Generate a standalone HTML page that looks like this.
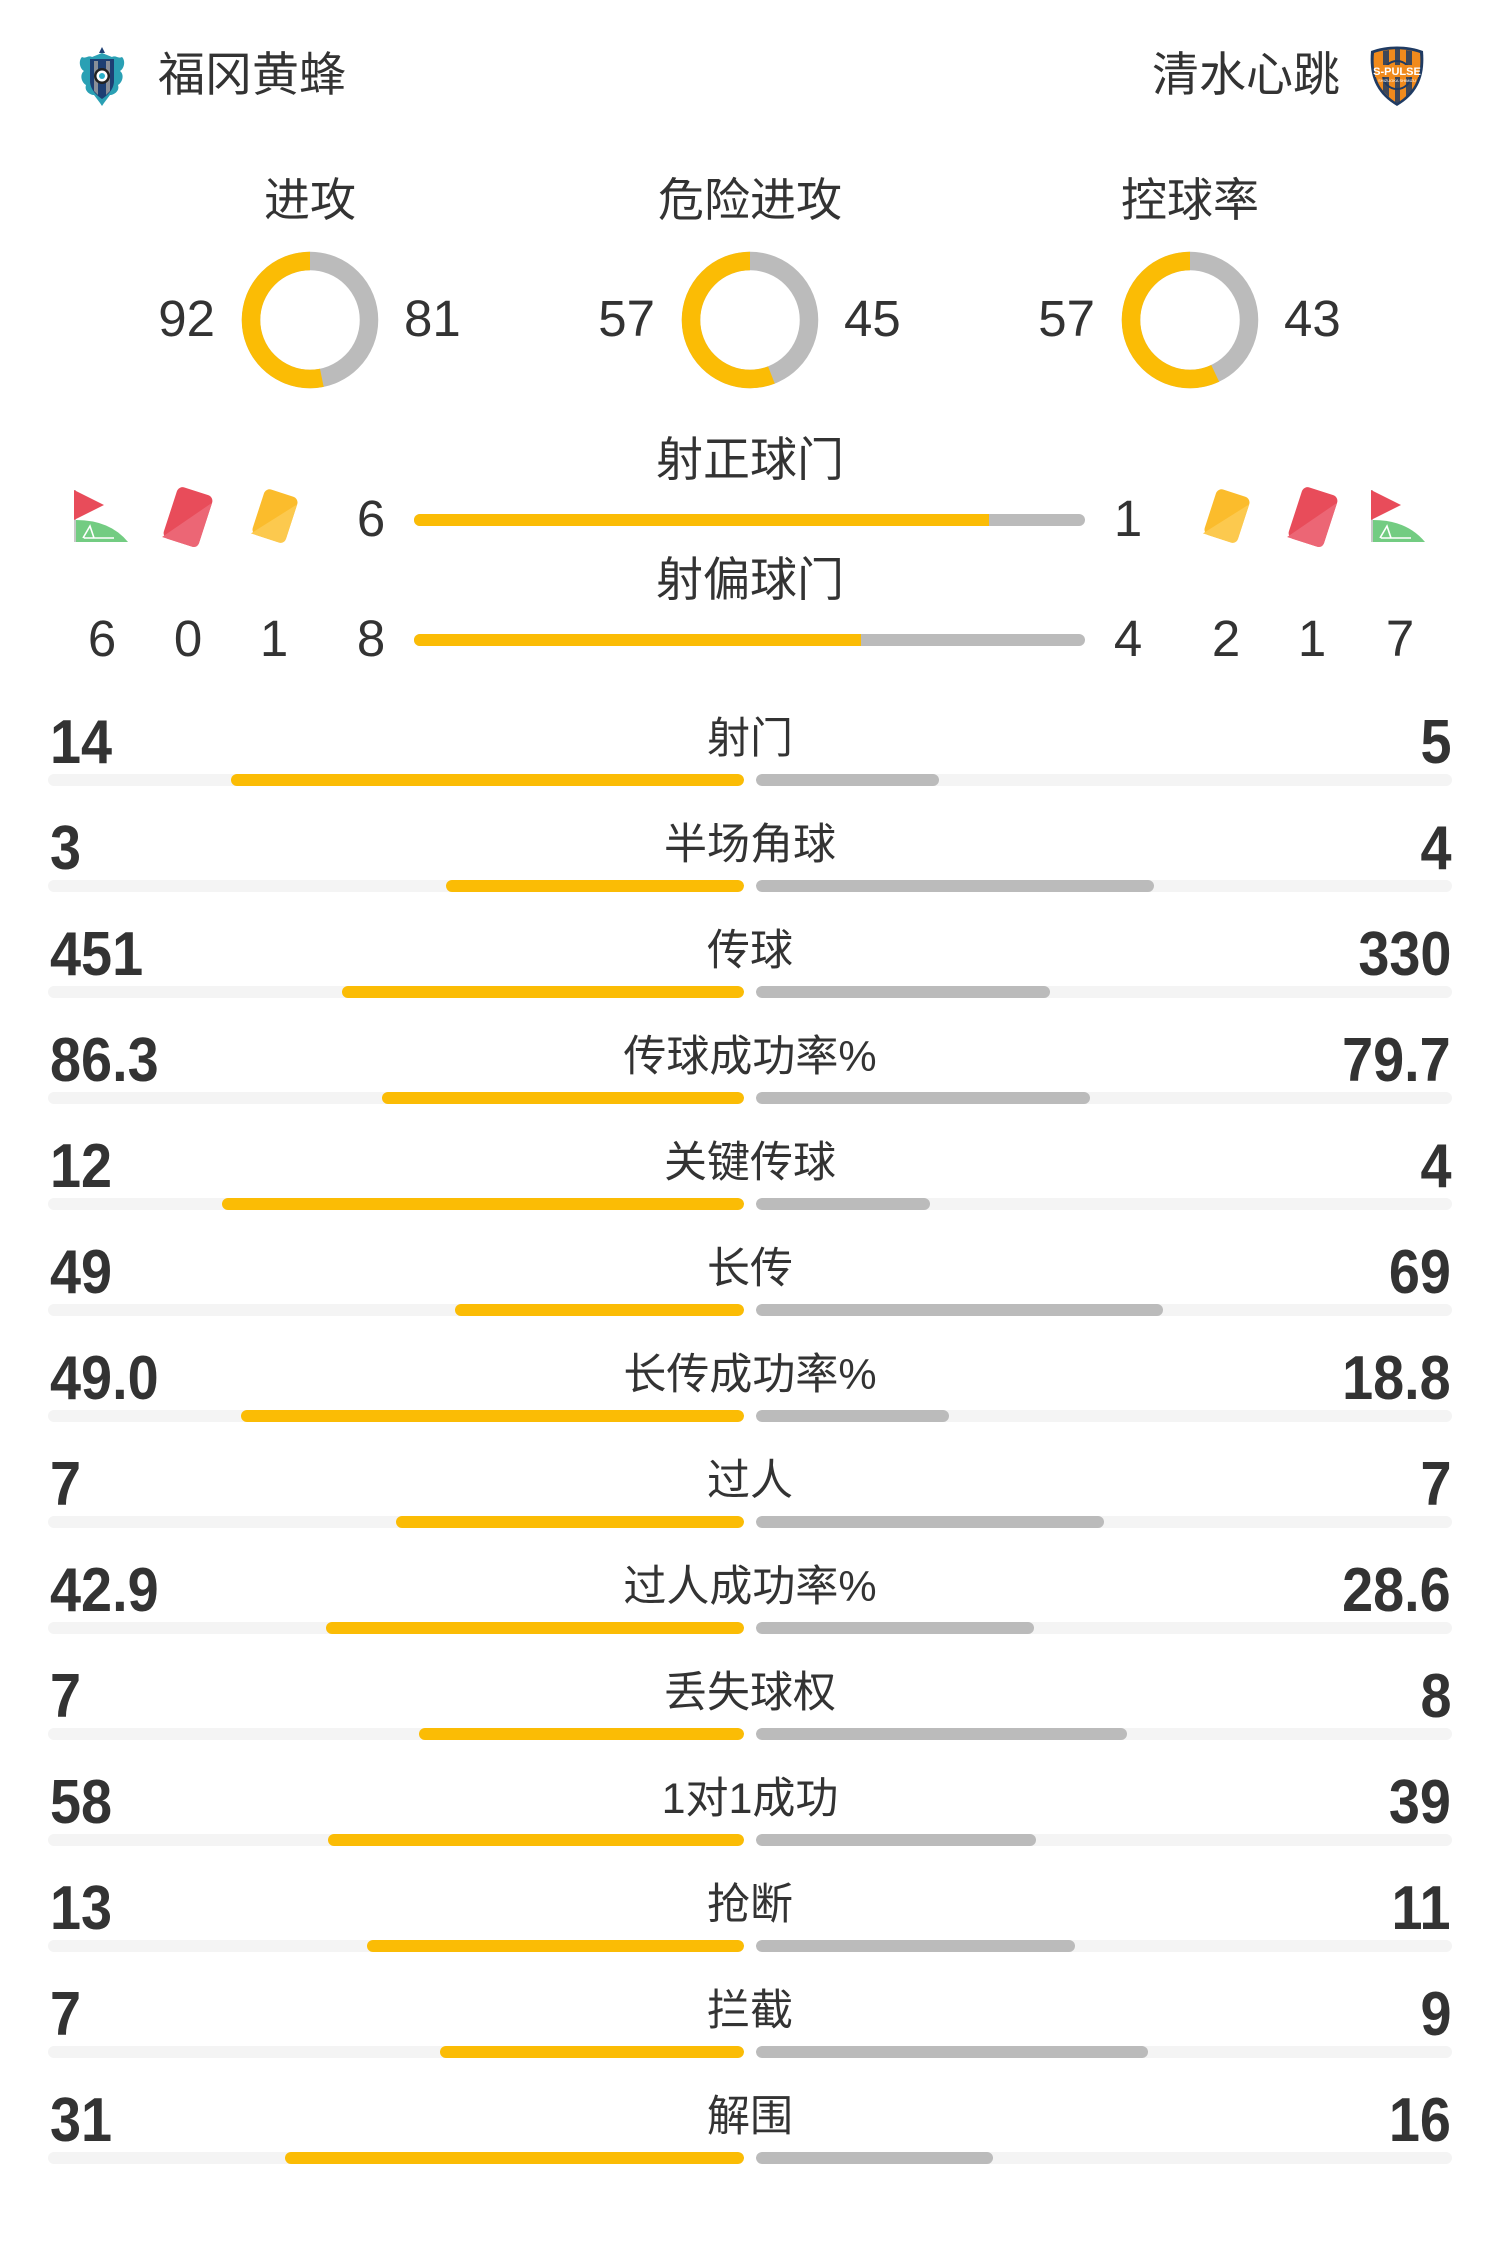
<!DOCTYPE html>
<html><head><meta charset="utf-8">
<style>
*{margin:0;padding:0;box-sizing:border-box}
html,body{width:1500px;height:2244px;background:#fff;overflow:hidden}
body{position:relative;font-family:"Liberation Sans","Noto Sans CJK SC",sans-serif;color:#333}
.a{position:absolute;white-space:nowrap}
.team{font-size:47px;height:60px;line-height:60px;top:45px}
.ttl{font-size:46px;height:60px;line-height:60px;top:170px;width:300px;text-align:center}
.dn{font-size:51px;height:60px;line-height:60px;top:289px;width:100px}
.dl{text-align:right}
.st{font-size:47px;height:60px;line-height:60px;width:400px;left:550px;text-align:center}
.sn{font-size:51px;height:60px;line-height:60px;width:60px;text-align:center}
.row{position:absolute;left:0;width:1500px;height:90px}
.nl,.nr{position:absolute;top:8px;height:70px;line-height:70px;font-size:62px;font-weight:bold;color:#333;white-space:nowrap}
.nl{left:50px;transform:scaleX(.9);transform-origin:left center}
.nr{right:49px;transform:scaleX(.9);transform-origin:right center}
.lb{position:absolute;left:0;width:1500px;top:9px;height:60px;line-height:60px;font-size:43px;text-align:center}
.tr{position:absolute;top:74px;height:12px;width:696px;border-radius:6px;background:#f4f4f4;overflow:hidden}
.tl{left:48px}.trr{left:756px}
.y{position:absolute;right:0;top:0;height:12px;border-radius:6px;background:#fbbc05}
.g{position:absolute;left:0;top:0;height:12px;border-radius:6px;background:#bbbbbb}
.sb{position:absolute;left:414px;width:671px;height:12px;border-radius:6px;background:#bbbbbb;overflow:hidden}
.sb div{height:12px;background:#fbbc05}
</style></head><body>

<!-- left logo -->
<svg class="a" style="left:76px;top:45px" width="52" height="62" viewBox="0 0 52 62">
  <path d="M26 2 L29 8 L23 8 Z" fill="#1d3f73"/>
  <path d="M6 12 C2 16 4 24 8 26 C3 30 6 38 10 40 C8 46 14 50 18 50 L24 58 L26 61 L28 58 L34 50 C38 50 44 46 42 40 C46 38 49 30 44 26 C48 24 50 16 46 12 C42 14 40 10 36 12 L26 8 L16 12 C12 10 10 14 6 12 Z" fill="#2aa0b4"/>
  <path d="M14 14 L38 14 L38 36 C38 44 32 50 26 54 C20 50 14 44 14 36 Z" fill="#1d3f73"/>
  <path d="M18 16 L22 16 L22 50 L18 46 Z M30 16 L34 16 L34 46 L30 50 Z" fill="#8a8f98"/>
  <circle cx="26" cy="31" r="8" fill="#222"/>
  <circle cx="26" cy="31" r="5.5" fill="#fff"/>
  <circle cx="26" cy="31" r="3" fill="#2ab0c8"/>
</svg>
<div class="a team" style="left:158px">福冈黄蜂</div>
<div class="a team" style="left:1152px">清水心跳</div>
<!-- right logo -->
<svg class="a" style="left:1367px;top:45px" width="60" height="62" viewBox="0 0 60 62">
  <path d="M4 6 C20 0 40 0 56 6 C58 30 52 48 30 61 C8 48 2 30 4 6 Z" fill="#1f3b63"/>
  <path d="M7 8 C21 3 39 3 53 8 C55 30 49 46 30 58 C11 46 5 30 7 8 Z" fill="#f08a1c"/>
  <path d="M16 6 L22 5 L22 52 L16 46 Z M28 4 L33 4 L33 58 L28 58 Z M39 5 L45 6 L45 46 L39 52 Z" fill="#1f3b63" opacity=".85"/>
  <circle cx="30" cy="30" r="14" fill="none" stroke="#1f3b63" stroke-width="2"/>
  <rect x="8" y="20" width="44" height="12" fill="#f08a1c"/>
  <text x="30" y="30" text-anchor="middle" font-family="Liberation Sans" font-weight="bold" font-size="11" fill="#fff">S-PULSE</text>
  <text x="30" y="37" text-anchor="middle" font-family="Liberation Sans" font-size="4" fill="#fff">SHIZUOKA SHIMIZU</text>
</svg>

<!-- donut titles -->
<div class="a ttl" style="left:160px">进攻</div>
<div class="a ttl" style="left:600px">危险进攻</div>
<div class="a ttl" style="left:1040px">控球率</div>

<!-- donuts -->
<svg class="a" style="left:240px;top:250px" width="140" height="140">
  <circle cx="70" cy="70" r="59" fill="none" stroke="#bbbbbb" stroke-width="18.5"/>
  <circle cx="0" cy="0" r="59" fill="none" stroke="#fbbc05" stroke-width="18.5" stroke-dasharray="197.2 400" transform="translate(70 70) rotate(90) scale(-1 1)"/>
</svg>
<svg class="a" style="left:680px;top:250px" width="140" height="140">
  <circle cx="70" cy="70" r="59" fill="none" stroke="#bbbbbb" stroke-width="18.5"/>
  <circle cx="0" cy="0" r="59" fill="none" stroke="#fbbc05" stroke-width="18.5" stroke-dasharray="207.2 400" transform="translate(70 70) rotate(90) scale(-1 1)"/>
</svg>
<svg class="a" style="left:1120px;top:250px" width="140" height="140">
  <circle cx="70" cy="70" r="59" fill="none" stroke="#bbbbbb" stroke-width="18.5"/>
  <circle cx="0" cy="0" r="59" fill="none" stroke="#fbbc05" stroke-width="18.5" stroke-dasharray="211.3 400" transform="translate(70 70) rotate(90) scale(-1 1)"/>
</svg>
<div class="a dn dl" style="left:115px">92</div>
<div class="a dn" style="left:404px">81</div>
<div class="a dn dl" style="left:555px">57</div>
<div class="a dn" style="left:844px">45</div>
<div class="a dn dl" style="left:995px">57</div>
<div class="a dn" style="left:1284px">43</div>

<!-- shots on/off target -->
<div class="a st" style="top:430px">射正球门</div>
<div class="a st" style="top:550px">射偏球门</div>
<div class="sb" style="top:514px"><div style="width:575px"></div></div>
<div class="sb" style="top:634px"><div style="width:447px"></div></div>
<div class="a sn" style="left:341px;top:489px">6</div>
<div class="a sn" style="left:1098px;top:489px">1</div>
<div class="a sn" style="left:72px;top:609px">6</div>
<div class="a sn" style="left:158px;top:609px">0</div>
<div class="a sn" style="left:244px;top:609px">1</div>
<div class="a sn" style="left:341px;top:609px">8</div>
<div class="a sn" style="left:1098px;top:609px">4</div>
<div class="a sn" style="left:1196px;top:609px">2</div>
<div class="a sn" style="left:1282px;top:609px">1</div>
<div class="a sn" style="left:1370px;top:609px">7</div>

<!-- icons left -->
<svg class="a" style="left:70px;top:486px" width="62" height="60" viewBox="0 0 62 60">
  <rect x="4" y="4" width="2" height="52" fill="#c8c8c8"/>
  <path d="M4 4 L34 19 L4 34 Z" fill="#e84c5a"/>
  <path d="M6 56 L6 34 Q40 34 58 56 Z" fill="#73cc82"/>
  <path d="M13 52 L20 40 L24 52 M14 52 L44 52" stroke="#fff" stroke-width="1.6" fill="none"/>
</svg>
<svg class="a" style="left:158px;top:481px" width="60" height="72" viewBox="0 0 60 72">
  <g transform="translate(30 36) rotate(18)">
    <rect x="-18.5" y="-27" width="37" height="54" rx="6" fill="#e84c5a"/>
    <path d="M18.5 -21 L18.5 21 Q18.5 27 12.5 27 L-18.5 27 Z" fill="#ec6675"/>
  </g>
</svg>
<svg class="a" style="left:245px;top:483px" width="60" height="66" viewBox="0 0 60 66">
  <g transform="translate(30 33) rotate(18)">
    <rect x="-17.5" y="-24" width="35" height="48" rx="6" fill="#fbbc2c"/>
    <path d="M17.5 -18 L17.5 18 Q17.5 24 11.5 24 L-17.5 24 Z" fill="#fcc94e"/>
  </g>
</svg>
<!-- icons right -->
<svg class="a" style="left:1197px;top:483px" width="60" height="66" viewBox="0 0 60 66">
  <g transform="translate(30 33) rotate(18)">
    <rect x="-17.5" y="-24" width="35" height="48" rx="6" fill="#fbbc2c"/>
    <path d="M17.5 -18 L17.5 18 Q17.5 24 11.5 24 L-17.5 24 Z" fill="#fcc94e"/>
  </g>
</svg>
<svg class="a" style="left:1283px;top:481px" width="60" height="72" viewBox="0 0 60 72">
  <g transform="translate(30 36) rotate(18)">
    <rect x="-18.5" y="-27" width="37" height="54" rx="6" fill="#e84c5a"/>
    <path d="M18.5 -21 L18.5 21 Q18.5 27 12.5 27 L-18.5 27 Z" fill="#ec6675"/>
  </g>
</svg>
<svg class="a" style="left:1367px;top:486px" width="62" height="60" viewBox="0 0 62 60">
  <rect x="4" y="4" width="2" height="52" fill="#c8c8c8"/>
  <path d="M4 4 L34 19 L4 34 Z" fill="#e84c5a"/>
  <path d="M6 56 L6 34 Q40 34 58 56 Z" fill="#73cc82"/>
  <path d="M13 52 L20 40 L24 52 M14 52 L44 52" stroke="#fff" stroke-width="1.6" fill="none"/>
</svg>

<!-- stat rows -->
<div class="row" style="top:700px"><div class="nl">14</div><div class="lb">射门</div><div class="nr">5</div>
<div class="tr tl"><div class="y" style="width:512.8px"></div></div><div class="tr trr"><div class="g" style="width:183.2px"></div></div></div>

<div class="row" style="top:806px"><div class="nl">3</div><div class="lb">半场角球</div><div class="nr">4</div>
<div class="tr tl"><div class="y" style="width:298.3px"></div></div><div class="tr trr"><div class="g" style="width:397.7px"></div></div></div>

<div class="row" style="top:912px"><div class="nl">451</div><div class="lb">传球</div><div class="nr">330</div>
<div class="tr tl"><div class="y" style="width:401.9px"></div></div><div class="tr trr"><div class="g" style="width:294.1px"></div></div></div>

<div class="row" style="top:1018px"><div class="nl">86.3</div><div class="lb">传球成功率%</div><div class="nr">79.7</div>
<div class="tr tl"><div class="y" style="width:361.8px"></div></div><div class="tr trr"><div class="g" style="width:334.2px"></div></div></div>

<div class="row" style="top:1124px"><div class="nl">12</div><div class="lb">关键传球</div><div class="nr">4</div>
<div class="tr tl"><div class="y" style="width:522px"></div></div><div class="tr trr"><div class="g" style="width:174px"></div></div></div>

<div class="row" style="top:1230px"><div class="nl">49</div><div class="lb">长传</div><div class="nr">69</div>
<div class="tr tl"><div class="y" style="width:289px"></div></div><div class="tr trr"><div class="g" style="width:407px"></div></div></div>

<div class="row" style="top:1336px"><div class="nl">49.0</div><div class="lb">长传成功率%</div><div class="nr">18.8</div>
<div class="tr tl"><div class="y" style="width:503px"></div></div><div class="tr trr"><div class="g" style="width:193px"></div></div></div>

<div class="row" style="top:1442px"><div class="nl">7</div><div class="lb">过人</div><div class="nr">7</div>
<div class="tr tl"><div class="y" style="width:348px"></div></div><div class="tr trr"><div class="g" style="width:348px"></div></div></div>

<div class="row" style="top:1548px"><div class="nl">42.9</div><div class="lb">过人成功率%</div><div class="nr">28.6</div>
<div class="tr tl"><div class="y" style="width:417.6px"></div></div><div class="tr trr"><div class="g" style="width:278.4px"></div></div></div>

<div class="row" style="top:1654px"><div class="nl">7</div><div class="lb">丢失球权</div><div class="nr">8</div>
<div class="tr tl"><div class="y" style="width:324.8px"></div></div><div class="tr trr"><div class="g" style="width:371.2px"></div></div></div>

<div class="row" style="top:1760px"><div class="nl">58</div><div class="lb">1对1成功</div><div class="nr">39</div>
<div class="tr tl"><div class="y" style="width:416.2px"></div></div><div class="tr trr"><div class="g" style="width:279.8px"></div></div></div>

<div class="row" style="top:1866px"><div class="nl">13</div><div class="lb">抢断</div><div class="nr">11</div>
<div class="tr tl"><div class="y" style="width:377px"></div></div><div class="tr trr"><div class="g" style="width:319px"></div></div></div>

<div class="row" style="top:1972px"><div class="nl">7</div><div class="lb">拦截</div><div class="nr">9</div>
<div class="tr tl"><div class="y" style="width:304.5px"></div></div><div class="tr trr"><div class="g" style="width:391.5px"></div></div></div>

<div class="row" style="top:2078px"><div class="nl">31</div><div class="lb">解围</div><div class="nr">16</div>
<div class="tr tl"><div class="y" style="width:459.1px"></div></div><div class="tr trr"><div class="g" style="width:236.9px"></div></div></div>

</body></html>
